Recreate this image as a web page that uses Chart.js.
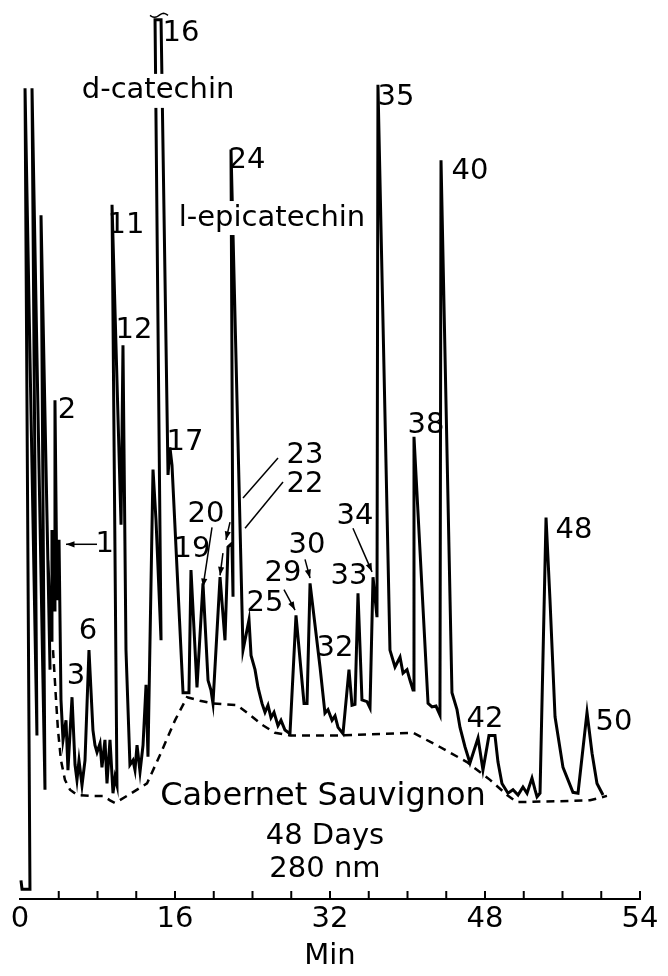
<!DOCTYPE html>
<html>
<head>
<meta charset="utf-8">
<script src="https://cdn.jsdelivr.net/npm/chart.js@4.4.1/dist/chart.umd.min.js"></script>
<style>
  html, body { margin: 0; padding: 0; background: #fff; }
  #wrap { width: 668px; height: 976px; }
</style>
</head>
<body>
<div id="wrap"><canvas id="chrom"></canvas></div>
<script>
// retention time (min) and detector response (relative, full scale = 100)
const traceTime = [
  0.10, 0.21, 1.03, 0.52, 1.75, 1.24, 2.58, 2.17, 3.10, 2.89, 3.20, 3.30, 3.51, 3.61, 3.82, 4.03,
  4.23, 4.44, 4.75, 4.95, 5.37, 5.68, 5.88, 6.09, 6.40, 6.71, 7.12, 7.53, 7.74, 7.95, 8.26, 8.46,
  8.77, 8.98, 9.29, 9.60, 9.81, 10.01, 9.50, 10.43, 10.63, 10.94, 11.35, 11.66, 11.87, 12.08, 12.39,
  12.70, 13.01, 13.21, 13.73, 14.04, 14.56, 13.94, 14.56, 15.28, 15.48, 15.69, 16.83, 17.44, 17.65,
  18.27, 18.89, 19.41, 19.71, 19.92, 20.65, 21.16, 21.47, 21.88, 21.99, 21.78, 23.02, 23.64, 23.85,
  24.26, 24.57, 24.98, 25.29, 25.60, 25.91, 26.22, 26.63, 26.94, 27.35, 27.87, 28.49, 29.32, 29.63,
  29.94, 30.97, 31.48, 31.79, 32.21, 32.52, 32.83, 33.34, 33.96, 34.27, 34.58, 34.89, 35.30, 35.82,
  36.13, 36.44, 36.85, 36.95, 38.19, 38.71, 39.23, 39.54, 39.95, 40.26, 40.57, 40.67, 42.12, 42.53,
  42.94, 43.35, 43.46, 44.59, 45.11, 45.42, 45.94, 46.45, 47.28, 47.79, 48.41, 49.03, 49.34, 49.75,
  50.37, 50.89, 51.41, 51.92, 52.34, 52.85, 53.16, 53.37, 53.68, 54.30, 54.71, 55.23, 56.05, 57.08,
  57.60, 58.53, 59.05, 59.56, 60.18
];
const traceAbs = [
  2.1, 1.1, 1.1, 91.2, 18.4, 91.2, 12.3, 76.9, 25.8, 38.1, 29.1, 41.5, 32.5, 56.1, 33.6, 40.4,
  22.4, 17.9, 20.1, 14.5, 22.7, 15.1, 13.4, 15.6, 12.8, 15.6, 28.0, 19.0, 17.3, 16.5, 17.5, 14.8,
  17.9, 13.0, 17.9, 11.9, 13.7, 12.8, 78.1, 42.1, 62.3, 28.0, 15.1, 15.6, 14.5, 17.3, 14.3,
  17.3, 24.1, 16.0, 48.3, 42.6, 29.1, 98.9, 98.9, 47.7, 50.8, 48.8, 23.2, 23.2, 37.0,
  23.8, 35.5, 24.6, 23.5, 22.0, 36.2, 29.1, 39.6, 40.0, 34.0, 84.3, 28.0, 31.4, 27.4,
  25.8, 23.8, 22.0, 21.0, 21.8, 20.4, 21.0, 19.5, 20.1, 19.0, 18.6, 31.9, 22.0, 22.0,
  35.5, 26.1, 20.9, 21.3, 20.1, 20.6, 19.3, 18.6, 25.8, 21.8, 21.9, 34.4, 22.4, 22.2,
  21.5, 36.2, 31.7, 91.6, 28.0, 26.1, 27.2, 25.4, 25.8, 24.6, 23.5, 52.0, 22.0, 21.6,
  21.7, 20.7, 83.1, 23.2, 21.3, 19.3, 17.1, 15.3, 18.1, 14.5, 18.4, 18.4, 15.4, 13.0,
  11.9, 12.3, 11.7, 12.6, 11.9, 13.6, 12.3, 11.5, 11.9, 42.9, 33.6, 20.5, 14.8, 12.0,
  11.9, 21.0, 16.4, 13.0, 11.7
];
// estimated baseline under the peaks (dashed)
const baseTime = [3.41, 3.72, 3.92, 4.23, 4.64, 5.16, 5.88, 7.23, 8.57, 9.29, 9.81, 11.35, 13.11, 14.45,
  16.0, 17.24, 18.58, 19.92, 22.40, 23.74, 24.98, 26.32, 27.87, 33.03, 40.57, 43.35, 46.14, 48.52,
  50.27, 51.30, 55.74, 58.84, 60.59];
const baseAbs = [28.0, 22.4, 19.0, 15.6, 13.4, 12.3, 11.7, 11.6, 11.6, 11.1, 10.8, 11.8, 13.0, 16.2,
  20.1, 22.7, 22.3, 22.0, 21.8, 20.7, 19.6, 18.7, 18.4, 18.4, 18.7, 17.1, 15.4, 13.4,
  11.7, 10.9, 11.0, 11.1, 11.6];

const tickValues = [0, 16, 32, 48, 64];
const tickText = ['0', '16', '32', '48', '54'];

const FONT = '"DejaVu Sans", sans-serif';

// text placed at data coordinates (t = min, v = response)
const notes = [
  { text: '16', t: 16.62, v: 97.4 },
  { text: 'd-catechin', t: 14.25, v: 90.9, mask: true },
  { text: '11', t: 10.94, v: 75.8 },
  { text: '12', t: 11.77, v: 64.0 },
  { text: '2', t: 4.85, v: 55.0 },
  { text: '1', t: 8.75, v: 39.9 },
  { text: '3', t: 5.77, v: 25.0 },
  { text: '6', t: 7.02, v: 30.1 },
  { text: '17', t: 17.03, v: 51.3 },
  { text: '24', t: 23.43, v: 83.1 },
  { text: 'l-epicatechin', t: 26.01, v: 76.6, mask: true },
  { text: '23', t: 29.42, v: 49.9 },
  { text: '22', t: 29.42, v: 46.6 },
  { text: '20', t: 19.20, v: 43.3 },
  { text: '19', t: 17.75, v: 39.3 },
  { text: '25', t: 25.29, v: 33.2 },
  { text: '29', t: 27.15, v: 36.6 },
  { text: '30', t: 29.63, v: 39.8 },
  { text: '32', t: 32.52, v: 28.2 },
  { text: '33', t: 33.96, v: 36.3 },
  { text: '34', t: 34.58, v: 43.0 },
  { text: '35', t: 38.81, v: 90.2 },
  { text: '38', t: 41.91, v: 53.3 },
  { text: '40', t: 46.45, v: 81.8 },
  { text: '42', t: 48.0, v: 20.2 },
  { text: '48', t: 57.19, v: 41.5 },
  { text: '50', t: 61.32, v: 19.9 },
  { text: 'Cabernet Sauvignon', t: 31.28, v: 11.5, size: 32 },
  { text: '48 Days', t: 31.48, v: 7.0 },
  { text: '280 nm', t: 31.48, v: 3.3 }
];
// leader lines [t0, v0, t1, v1, arrowhead]
const leaders = [
  [7.95, 39.9, 4.75, 39.9, true],
  [26.63, 49.6, 23.02, 45.1, false],
  [21.68, 42.4, 21.26, 40.4, true],
  [27.15, 46.9, 23.23, 41.7, false],
  [20.95, 38.9, 20.65, 36.4, true],
  [19.82, 41.8, 18.89, 35.1, true],
  [27.25, 34.8, 28.39, 32.5, true],
  [29.42, 38.2, 29.94, 36.1, true],
  [34.37, 41.7, 36.34, 36.8, true]
];

const annotate = {
  id: 'annotate',
  afterDatasetsDraw(chart) {
    const { ctx, scales: { x, y } } = chart;
    ctx.save();
    ctx.strokeStyle = '#000';
    ctx.fillStyle = '#000';
    // leaders + arrowheads
    ctx.lineWidth = 1.5;
    for (const [t0, v0, t1, v1, head] of leaders) {
      const x0 = x.getPixelForValue(t0), y0 = y.getPixelForValue(v0);
      const x1 = x.getPixelForValue(t1), y1 = y.getPixelForValue(v1);
      ctx.beginPath(); ctx.moveTo(x0, y0); ctx.lineTo(x1, y1); ctx.stroke();
      if (head) {
        const a = Math.atan2(y1 - y0, x1 - x0);
        ctx.beginPath();
        ctx.moveTo(x1, y1);
        ctx.lineTo(x1 - 9 * Math.cos(a - 0.35), y1 - 9 * Math.sin(a - 0.35));
        ctx.lineTo(x1 - 9 * Math.cos(a + 0.35), y1 - 9 * Math.sin(a + 0.35));
        ctx.closePath(); ctx.fill();
      }
    }
    // off-scale mark over peak 16
    const sx0 = x.getPixelForValue(13.42), sx1 = x.getPixelForValue(15.28), sy = y.getPixelForValue(99.4);
    ctx.lineWidth = 1.5;
    ctx.beginPath();
    for (let i = 0; i <= 12; i++) {
      const px = sx0 + (sx1 - sx0) * i / 12;
      const py = sy + 2 * Math.sin(i / 12 * Math.PI * 2);
      i ? ctx.lineTo(px, py) : ctx.moveTo(px, py);
    }
    ctx.stroke();
    // labels
    ctx.textAlign = 'center';
    ctx.textBaseline = 'middle';
    for (const n of notes) {
      ctx.font = (n.size || 29) + 'px ' + FONT;
      const px = x.getPixelForValue(n.t), py = y.getPixelForValue(n.v);
      if (n.mask) {
        const w = ctx.measureText(n.text).width;
        ctx.fillStyle = '#fff';
        ctx.fillRect(px - w / 2 - 4, py - 17, w + 8, 34);
        ctx.fillStyle = '#000';
      }
      ctx.fillText(n.text, px, py);
    }
    ctx.restore();
  },
  afterDraw(chart) {
    // tick marks point up into the plot
    const { ctx, scales: { x } } = chart;
    ctx.save();
    ctx.strokeStyle = '#000';
    ctx.lineWidth = 2;
    for (const tk of x.ticks) {
      if (tk.value === 0) continue;
      const px = x.getPixelForValue(tk.value);
      ctx.beginPath(); ctx.moveTo(px, x.top); ctx.lineTo(px, x.top - 8); ctx.stroke();
    }
    ctx.restore();
  }
};

const ctx = document.getElementById('chrom').getContext('2d');
new Chart(ctx, {
  type: 'line',
  data: {
    datasets: [
      {
        data: traceTime.map((t, i) => ({ x: t, y: traceAbs[i] })),
        borderColor: '#000',
        borderWidth: 3,
        borderJoinStyle: 'miter',
        pointRadius: 0,
        tension: 0,
        clip: false
      },
      {
        data: baseTime.map((t, i) => ({ x: t, y: baseAbs[i] })),
        borderColor: '#000',
        borderWidth: 2.5,
        borderDash: [8, 6],
        pointRadius: 0,
        tension: 0
      }
    ]
  },
  options: {
    responsive: true,
    maintainAspectRatio: false,
    animation: false,
    events: [],
    layout: { padding: { left: 20, right: 28, top: 10, bottom: 0 } },
    plugins: { legend: { display: false }, tooltip: { enabled: false } },
    scales: {
      x: {
        type: 'linear',
        min: 0,
        max: 64,
        afterFit: (scale) => { scale.height = 77; },
        grid: { display: false, drawTicks: false },
        border: { display: true, color: '#000', width: 2 },
        ticks: {
          stepSize: 4,
          autoSkip: false,
          maxRotation: 0,
          padding: 3,
          color: '#000',
          font: { family: FONT, size: 29 },
          callback: (v) => {
            const k = tickValues.indexOf(v);
            return k >= 0 ? tickText[k] : '';
          }
        },
        title: {
          display: true,
          text: 'Min',
          color: '#000',
          font: { family: FONT, size: 29 },
          padding: { top: 0, bottom: 2 }
        }
      },
      y: { display: false, min: 0, max: 100 }
    }
  },
  plugins: [annotate]
});
</script>
</body>
</html>
